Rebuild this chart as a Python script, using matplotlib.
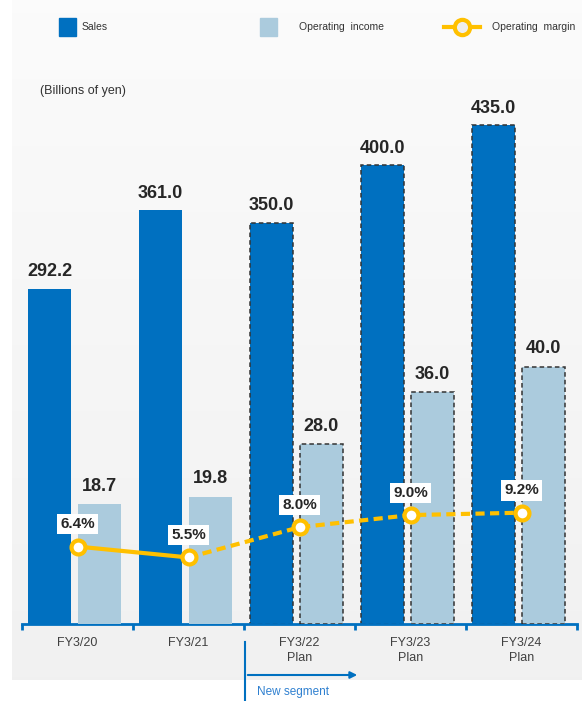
import numpy as np
import matplotlib.pyplot as plt
from matplotlib.patches import Rectangle, FancyArrowPatch
from matplotlib.lines import Line2D

plt.rcParams['font.family'] = ['Liberation Sans', 'DejaVu Sans']

# 数据
years = ['FY3/20', 'FY3/21', 'FY3/22\nPlan', 'FY3/23\nPlan', 'FY3/24\nPlan']
sales = [292.2, 361.0, 350.0, 400.0, 435.0]
income = [18.7, 19.8, 28.0, 36.0, 40.0]
margin = [6.4, 5.5, 8.0, 9.0, 9.2]
is_plan = [False, False, True, True, True]

BLUE = '#0070c0'
LIGHT = '#abcbdd'
GOLD = '#ffc000'
W, H = 582, 701

fig = plt.figure(figsize=(W / 100, H / 100), dpi=100, facecolor='white')

# 背景层（像素坐标）
bg = fig.add_axes([0, 0, 1, 1], zorder=0)
bg.axis('off')
grad = np.linspace(0.985, 0.945, 256).reshape(-1, 1)
bg.imshow(np.dstack([grad, grad, grad]), extent=(12, W, 680, 0), aspect='auto')
bg.set_xlim(0, W)
bg.set_ylim(H, 0)

# 图例
bg.add_patch(Rectangle((59, 18), 17, 18, color=BLUE))
bg.text(82, 27, 'Sales', fontsize=7.5, va='center', color='#333333')
bg.add_patch(Rectangle((260, 18), 17, 18, color=LIGHT))
bg.text(299, 27, 'Operating  income', fontsize=7.5, va='center', color='#333333')
bg.add_line(Line2D([444, 480], [27, 27], color=GOLD, lw=3))
bg.plot([462], [27], 'o', ms=11, mfc='#eeeeee', mec=GOLD, mew=3)
bg.text(492, 27, 'Operating  margin', fontsize=7.5, va='center', color='#333333')
bg.text(40, 91, '(Billions of yen)', fontsize=9, va='center', color='#333333')

# "New segment" 标注
bg.add_line(Line2D([245, 245], [642, H], color=BLUE, lw=1.5))
bg.add_patch(FancyArrowPatch((245, 675), (360, 675), arrowstyle='-|>', mutation_scale=10,
                             color=BLUE, lw=1.5))
bg.text(257, 692, 'New segment', fontsize=8.5, va='center', color='#2f80d0')

# 主坐标轴：销售额
ax = fig.add_axes([22 / W, 77 / H, 555 / W, 514 / H], zorder=1)
ax.patch.set_alpha(0)
x = np.arange(len(years))
bw = 0.387
dash = (0, (3, 2))

for i in range(len(years)):
    ec = '#333333' if is_plan[i] else 'none'
    ax.bar(x[i] - 0.252, sales[i], bw, color=BLUE, edgecolor=ec, linestyle=dash, lw=1.1)
    ax.annotate(f'{sales[i]:.1f}', (x[i] - 0.252, sales[i]), xytext=(0, 9), textcoords='offset points',
                ha='center', va='baseline', fontsize=13, fontweight='bold', color='#262626')

ax.set_xlim(-0.5, 4.5)
ax.set_ylim(0, 448.3)
for s in ['top', 'right', 'left']:
    ax.spines[s].set_visible(False)
ax.spines['bottom'].set_color(BLUE)
ax.spines['bottom'].set_linewidth(2)
ax.set_yticks([])
ax.set_xticks(x)
ax.set_xticklabels(years, fontsize=9, color='#404040', linespacing=1.35)
ax.tick_params(axis='x', which='major', length=0, pad=9)
ax.set_xticks(np.arange(-0.5, 5, 1), minor=True)
ax.tick_params(axis='x', which='minor', length=4, width=2, color=BLUE, direction='out')

# 营业利润（独立刻度）
ax_inc = ax.twinx()
ax_inc.set_ylim(0, 79.9)
ax_inc.axis('off')
for i in range(len(years)):
    ec = '#333333' if is_plan[i] else 'none'
    ax_inc.bar(x[i] + 0.198, income[i], bw, color=LIGHT, edgecolor=ec, linestyle=dash, lw=1.1)
    ax_inc.annotate(f'{income[i]:.1f}', (x[i] + 0.198, income[i]), xytext=(0, 9.5), textcoords='offset points',
                    ha='center', va='baseline', fontsize=13, fontweight='bold', color='#262626')

# 营业利润率
ax2 = ax.twinx()
ax2.set_ylim(0, 42.48)
ax2.axis('off')
ax2.plot(x[:2], margin[:2], color=GOLD, lw=3, zorder=2)
ax2.plot(x[1:], margin[1:], color=GOLD, lw=3, dashes=(2.2, 1.3), zorder=2)
ax2.plot(x, margin, 'o', ms=10, mfc='white', mec=GOLD, mew=3, zorder=3)
for i in range(len(years)):
    ax2.annotate(f'{margin[i]:.1f}%', (x[i], margin[i]), xytext=(0, 16), textcoords='offset points',
                 ha='center', va='center', fontsize=11, fontweight='bold', color='#262626',
                 bbox=dict(boxstyle='square,pad=0.2', fc='white', ec='none'))

fig.savefig('out.png', dpi=100, facecolor='white')
